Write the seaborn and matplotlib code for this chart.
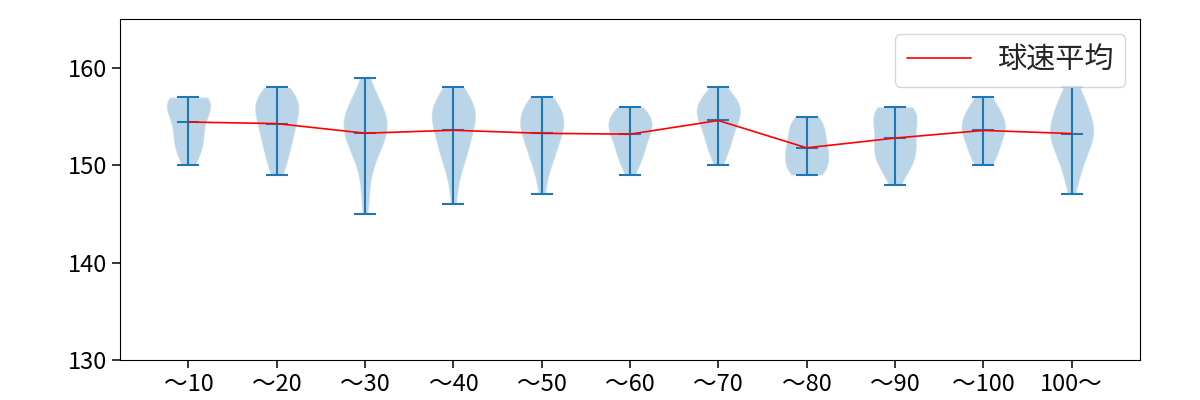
import numpy as np
import pandas as pd
import matplotlib
matplotlib.use("Agg")
import matplotlib.pyplot as plt
import seaborn as sns

categories = ["～10", "～20", "～30", "～40", "～50", "～60", "～70", "～80", "～90", "～100", "100～"]

speeds_10 = {150: 1, 151: 1, 152: 2, 153: 2, 154: 1, 155: 2, 156: 3, 157: 4}
speeds_20 = {149: 1, 150: 2, 151: 1, 152: 3, 153: 2, 154: 3, 155: 3, 156: 4, 157: 4, 158: 2}
speeds_30 = {145: 1, 146: 1, 147: 1, 148: 1, 149: 1, 150: 2, 151: 3, 152: 4, 153: 5, 154: 6,
             155: 6, 156: 4, 157: 3, 158: 2, 159: 1}
speeds_40 = {146: 1, 147: 1, 148: 1, 149: 1, 150: 3, 151: 3, 152: 4, 153: 4, 154: 5, 155: 6,
             156: 6, 157: 4, 158: 3}
speeds_50 = {147: 1, 148: 1, 149: 1, 150: 2, 151: 3, 152: 3, 153: 4, 154: 5, 155: 5, 156: 4, 157: 3}
speeds_60 = {149: 1, 150: 2, 151: 3, 152: 3, 153: 4, 154: 5, 155: 5, 156: 3}
speeds_70 = {150: 1, 151: 2, 152: 3, 153: 3, 154: 4, 155: 5, 156: 6, 157: 4, 158: 2}
speeds_80 = {149: 3, 150: 3, 151: 3, 152: 3, 153: 2, 154: 3, 155: 2}
speeds_90 = {148: 1, 149: 1, 150: 3, 151: 3, 152: 3, 153: 3, 154: 2, 155: 4, 156: 4}
speeds_100 = {150: 2, 151: 3, 152: 3, 153: 4, 154: 5, 155: 4, 156: 3, 157: 2}
speeds_100p = {147: 1, 148: 1, 149: 2, 150: 2, 151: 3, 152: 4, 153: 5, 154: 5, 155: 4,
               156: 3, 157: 3, 158: 2}

groups = [speeds_10, speeds_20, speeds_30, speeds_40, speeds_50, speeds_60,
          speeds_70, speeds_80, speeds_90, speeds_100, speeds_100p]

legend_label = "球速平均"

sns.set_style("ticks")
plt.rcParams["font.family"] = ["Noto Sans CJK JP", "DejaVu Sans"]
plt.rcParams["axes.edgecolor"] = "black"

samples = [np.repeat(list(g.keys()), list(g.values())).astype(float) for g in groups]
positions = np.arange(1, len(categories) + 1)

fig, ax = plt.subplots(figsize=(12, 4), dpi=100)
fig.subplots_adjust(left=0.1, right=0.95, top=0.952, bottom=0.1)

ax.violinplot(samples, positions=positions, showmeans=True)

means = pd.DataFrame({"pos": positions, "mean": [s.mean() for s in samples]})
sns.lineplot(data=means, x="pos", y="mean", color="red", linewidth=1.2,
             label=legend_label, ax=ax)

ax.set_xticks(positions)
ax.set_xticklabels(categories)
ax.set_ylim(130, 165)
ax.set_yticks([130, 140, 150, 160])
ax.set_xlabel("")
ax.set_ylabel("")
ax.tick_params(labelsize=17, length=6, width=1.1, colors="black")
for s in ax.spines.values():
    s.set_visible(True)
    s.set_color("black")
ax.legend(loc="upper right", fontsize=21, handlelength=2.2, handletextpad=0.9)

fig.savefig("out.png")
